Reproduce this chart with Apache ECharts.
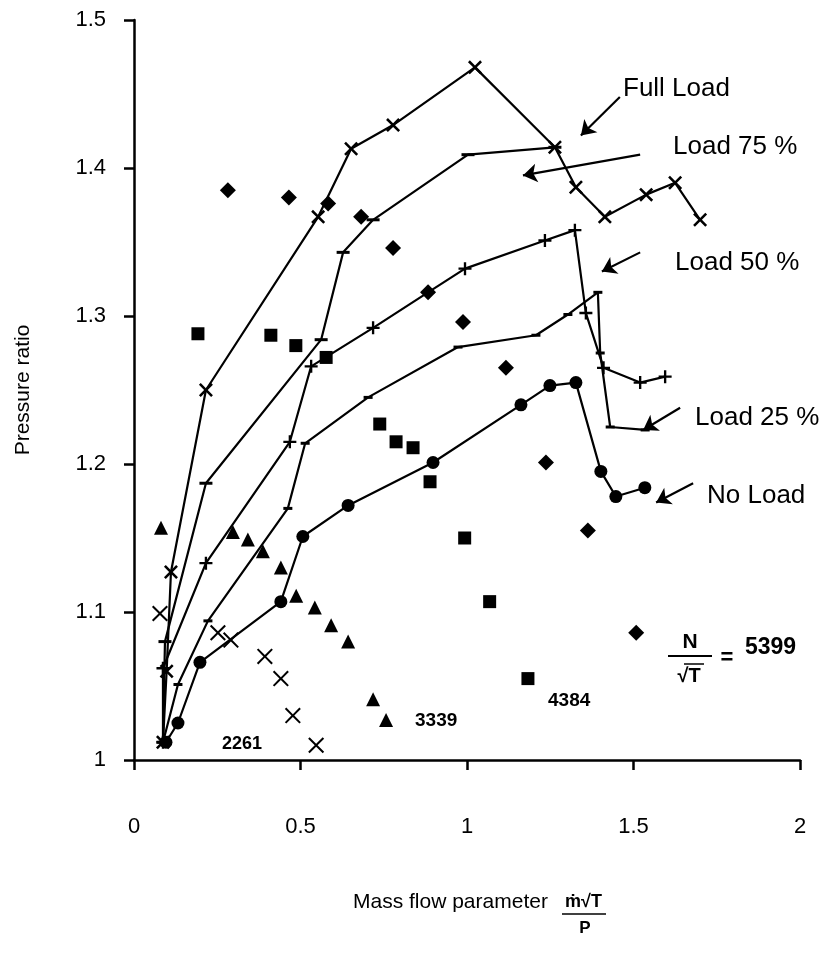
<!DOCTYPE html>
<html><head><meta charset="utf-8">
<script src="https://cdn.jsdelivr.net/npm/echarts/dist/echarts.min.js"></script>
<style>html,body{margin:0;padding:0;background:#fff}#c{width:834px;height:963px}</style>
</head><body><div id="c"></div>
<script>
// ---- data (x = mass flow parameter, y = pressure ratio) ----
const xTickLabels = ['0', '0.5', '1', '1.5', '2'];
const yTickLabels = ['1', '1.1', '1.2', '1.3', '1.4', '1.5'];

const fullLoad = [[0.087,1.012],[0.098,1.060],[0.111,1.127],[0.216,1.250],[0.553,1.367],[0.652,1.413],[0.778,1.429],[1.024,1.468],[1.264,1.414],[1.327,1.387],[1.414,1.367],[1.538,1.382],[1.625,1.390],[1.700,1.365]];
const load75 = [[0.087,1.012],[0.093,1.080],[0.216,1.187],[0.562,1.284],[0.628,1.343],[0.718,1.365],[1.003,1.409],[1.264,1.414]];
const load50 = [[0.087,1.012],[0.087,1.062],[0.216,1.133],[0.468,1.215],[0.532,1.266],[0.718,1.292],[0.883,1.316],[0.994,1.332],[1.234,1.351],[1.324,1.358],[1.357,1.302],[1.410,1.265],[1.520,1.255],[1.595,1.259]];
const load25 = [[0.087,1.012],[0.132,1.051],[0.222,1.094],[0.462,1.170],[0.514,1.214],[0.703,1.245],[0.973,1.279],[1.207,1.287],[1.303,1.301],[1.393,1.316],[1.400,1.275],[1.430,1.225],[1.535,1.223]];
const noLoad = [[0.096,1.012],[0.132,1.025],[0.198,1.066],[0.441,1.107],[0.507,1.151],[0.643,1.172],[0.898,1.201],[1.162,1.240],[1.249,1.253],[1.327,1.255],[1.402,1.195],[1.447,1.178],[1.534,1.184]];

const speed2261 = [[0.078,1.099],[0.252,1.086],[0.291,1.081],[0.393,1.070],[0.441,1.055],[0.477,1.030],[0.547,1.010]];
const speed3339 = [[0.081,1.157],[0.297,1.154],[0.342,1.149],[0.387,1.141],[0.441,1.130],[0.487,1.111],[0.543,1.103],[0.592,1.091],[0.643,1.080],[0.718,1.041],[0.757,1.027]];
const speed4384 = [[0.192,1.288],[0.411,1.287],[0.486,1.280],[0.577,1.272],[0.738,1.227],[0.787,1.215],[0.838,1.211],[0.889,1.188],[0.993,1.150],[1.068,1.107],[1.183,1.055]];
const speed5399 = [[0.282,1.385],[0.465,1.380],[0.583,1.376],[0.682,1.367],[0.778,1.346],[0.883,1.316],[0.988,1.296],[1.117,1.265],[1.237,1.201],[1.363,1.155],[1.508,1.086]];

const curveNames = ['Full Load', 'Load 75 %', 'Load 50 %', 'Load 25 %', 'No Load'];
const speedNames = ['2261', '3339', '4384', '5399'];
// annotation arrows: [from, to] in data units
const arrowFrom = [[1.459,1.448],[1.520,1.409],[1.520,1.343],[1.640,1.238],[1.679,1.187]];
const arrowTo   = [[1.342,1.422],[1.168,1.395],[1.405,1.330],[1.529,1.223],[1.568,1.174]];

// ---- styling ----
const FONT = '"Liberation Sans", Arial, sans-serif';
const xPath = 'path://M0,1.3 L1.3,0 L5,3.7 L8.7,0 L10,1.3 L6.3,5 L10,8.7 L8.7,10 L5,6.3 L1.3,10 L0,8.7 L3.7,5 Z';
const xThinPath = 'path://M0,0.9 L0.9,0 L5,4.1 L9.1,0 L10,0.9 L5.9,5 L10,9.1 L9.1,10 L5,5.9 L0.9,10 L0,9.1 L4.1,5 Z';
const plusPath = 'path://M4.1,0 H5.9 V4.1 H10 V5.9 H5.9 V10 H4.1 V5.9 H0 V4.1 H4.1 Z';
const dashPath = 'path://M0,0 H10 V3 H0 Z';

function lineSeries(name, data, symbol, size) {
  return {
    name, type: 'line', data, symbol, symbolSize: size, showAllSymbol: true,
    lineStyle: { color: '#000', width: 2.2 }, itemStyle: { color: '#000', opacity: 1 },
    animation: false, z: 3
  };
}
function scatterSeries(name, data, symbol, size) {
  return { name, type: 'scatter', data, symbol, symbolSize: size, itemStyle: { color: '#000', opacity: 1 }, animation: false, z: 4 };
}

const series = [
  lineSeries(curveNames[0], fullLoad, xPath, 14),
  lineSeries(curveNames[1], load75, dashPath, [13, 3]),
  lineSeries(curveNames[2], load50, plusPath, 13),
  lineSeries(curveNames[3], load25, dashPath, [9, 3]),
  lineSeries(curveNames[4], noLoad, 'circle', 13),
  scatterSeries(speedNames[0], speed2261, xThinPath, 16),
  scatterSeries(speedNames[1], speed3339, 'triangle', 14),
  scatterSeries(speedNames[2], speed4384, 'rect', 13),
  scatterSeries(speedNames[3], speed5399, 'diamond', 16),
  {
    name: 'arrows', type: 'scatter', data: [], animation: false,
    markLine: {
      silent: true, animation: false, symbol: ['none', 'arrow'], symbolSize: 14,
      label: { show: false }, lineStyle: { color: '#000', width: 2.2, type: 'solid', opacity: 1 },
      itemStyle: { color: '#000' },
      data: arrowFrom.map((f, i) => [{ coord: f }, { coord: arrowTo[i] }])
    }
  }
];

const txt = (text, x, y, size, weight, align) => ({
  type: 'text', x, y, style: { text, font: `${weight || 'normal'} ${size}px ${FONT}`, fill: '#000', textAlign: align || 'left', textVerticalAlign: 'middle' }
});
const seg = (x1, y1, x2, y2, w) => ({ type: 'line', shape: { x1, y1, x2, y2 }, style: { stroke: '#000', lineWidth: w || 1.5 } });

const graphic = [
  txt(curveNames[0], 623, 89, 26),
  txt(curveNames[1], 673, 147, 26),
  txt(curveNames[2], 675, 263, 26),
  txt(curveNames[3], 695, 418, 26),
  txt(curveNames[4], 707, 496, 26),
  txt(speedNames[0], 222, 744, 18, 'bold'),
  txt(speedNames[1], 415, 721, 19, 'bold'),
  txt(speedNames[2], 548, 701, 19, 'bold'),
  // N / sqrt(T) = 5399
  txt('N', 690, 642, 21, 'bold', 'center'),
  seg(668, 656, 712, 656, 2),
  txt('√T', 689, 676, 20, 'bold', 'center'),
  seg(684, 664, 704, 664, 1.5),
  txt('=', 727, 658, 22, 'bold', 'center'),
  txt(speedNames[3], 745, 648, 23, 'bold'),
  // x axis title
  txt('Mass flow parameter', 353, 902, 21),
  txt('ṁ√T', 565, 902, 18, 'bold'),
  seg(562, 914, 606, 914, 1.5),
  txt('P', 585, 928, 17, 'bold', 'center')
];

const axisCommon = {
  axisLine: { show: true, lineStyle: { color: '#000', width: 2.5 } },
  axisTick: { show: true, inside: false, length: 10, lineStyle: { color: '#000', width: 2.5 } },
  splitLine: { show: false }
};

const chart = echarts.init(document.getElementById('c'), null, { renderer: 'canvas' });
chart.setOption({
  backgroundColor: '#fff',
  animation: false,
  grid: { left: 134, right: 34, top: 20, bottom: 203, containLabel: false },
  xAxis: Object.assign({
    type: 'value', min: 0, max: 2, interval: 0.5,
    axisLabel: { margin: 56, fontSize: 22, fontFamily: FONT, color: '#000',
      formatter: v => xTickLabels[Math.round(v / 0.5)] }
  }, axisCommon),
  yAxis: Object.assign({
    type: 'value', min: 1, max: 1.5, interval: 0.1,
    name: 'Pressure ratio', nameLocation: 'middle', nameGap: 100,
    nameTextStyle: { fontSize: 21, fontFamily: FONT, color: '#000' },
    axisLabel: { margin: 28, fontSize: 22, fontFamily: FONT, color: '#000',
      formatter: v => yTickLabels[Math.round((v - 1) / 0.1)] }
  }, axisCommon),
  graphic,
  series
});
</script>
</body></html>
